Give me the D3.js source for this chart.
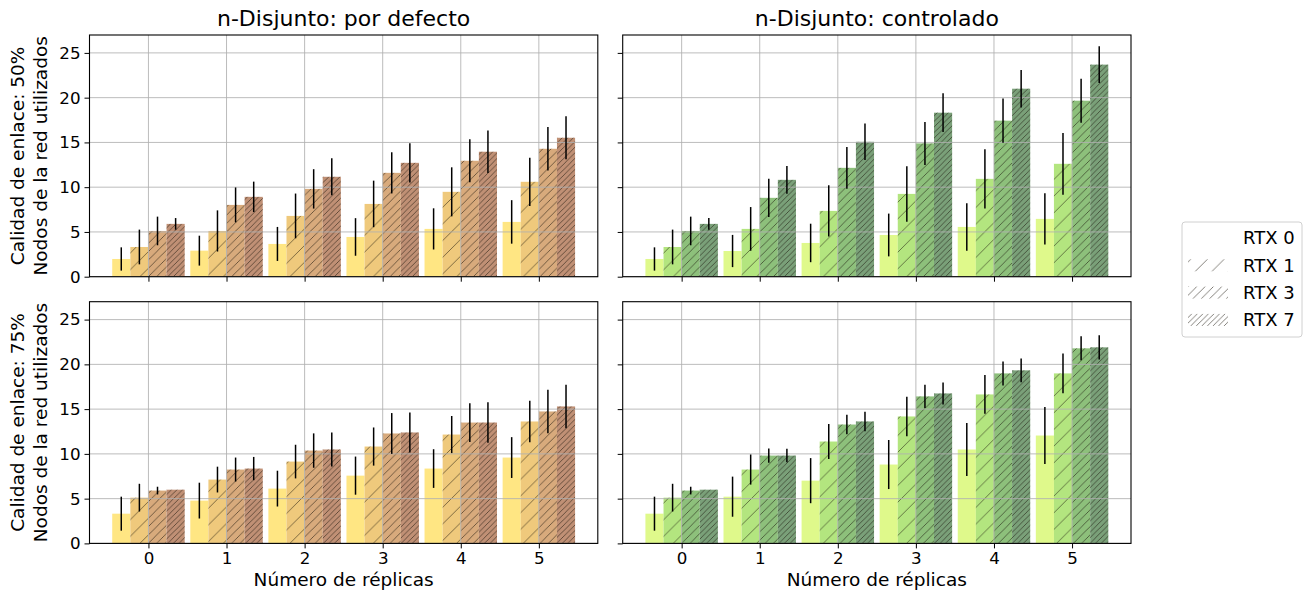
<!DOCTYPE html>
<html>
<head>
<meta charset="utf-8">
<script src="https://cdn.jsdelivr.net/npm/d3@7"></script>
<style>
  body { margin: 0; background: #fff; }
  text { font-family: "DejaVu Sans", sans-serif; fill: #000; }
</style>
</head>
<body>
<svg id="chart" width="1311" height="592"></svg>
<script>
// data
const replicas = [0, 1, 2, 3, 4, 5];
const rtxLabels = ["RTX 0", "RTX 1", "RTX 3", "RTX 7"];
const yTicks = [0, 5, 10, 15, 20, 25];

// n-Disjunto: por defecto, calidad 50%
const meanDef50 = [
  [1.98, 2.91, 3.66, 4.44, 5.34, 6.12],
  [3.32, 5.11, 6.79, 8.13, 9.48, 10.6],
  [5.11, 8.02, 9.81, 11.6, 12.95, 14.29],
  [5.9, 8.92, 11.16, 12.72, 13.96, 15.52]
];
const errDef50 = [
  [1.3, 1.67, 1.9, 2.1, 2.3, 2.43],
  [1.94, 2.3, 2.5, 2.6, 2.74, 2.7],
  [1.6, 1.95, 2.2, 2.3, 2.4, 2.42],
  [0.65, 1.7, 2.07, 2.2, 2.37, 2.4]
];
// n-Disjunto: controlado, calidad 50%
const meanCtl50 = [
  [1.98, 2.87, 3.77, 4.66, 5.56, 6.46],
  [3.32, 5.34, 7.35, 9.25, 10.93, 12.61],
  [5.11, 8.81, 12.16, 14.89, 17.43, 19.66],
  [5.9, 10.82, 15.07, 18.32, 21.0, 23.69]
];
const errCtl50 = [
  [1.3, 1.8, 2.15, 2.39, 2.65, 2.87],
  [1.94, 2.44, 2.87, 3.1, 3.32, 3.45],
  [1.6, 2.13, 2.33, 2.4, 2.48, 2.46],
  [0.65, 1.55, 2.03, 2.16, 2.09, 2.05]
];
// n-Disjunto: por defecto, calidad 75%
const meanDef75 = [
  [3.32, 4.78, 6.12, 7.57, 8.36, 9.59],
  [5.11, 7.13, 9.14, 10.82, 12.16, 13.62],
  [5.9, 8.25, 10.37, 12.28, 13.5, 14.74],
  [6.0, 8.36, 10.49, 12.39, 13.5, 15.3]
];
const errDef75 = [
  [1.9, 2.0, 2.0, 2.13, 2.16, 2.28],
  [1.55, 1.44, 1.88, 2.13, 2.07, 2.31],
  [0.43, 1.34, 1.92, 2.28, 2.16, 2.43],
  [0.0, 1.3, 1.9, 2.24, 2.26, 2.43]
];
// n-Disjunto: controlado, calidad 75%
const meanCtl75 = [
  [3.32, 5.22, 7.01, 8.81, 10.49, 12.05],
  [5.11, 8.25, 11.38, 14.18, 16.64, 18.99],
  [5.9, 9.81, 13.28, 16.42, 18.99, 21.79],
  [6.0, 9.81, 13.62, 16.75, 19.33, 21.9]
];
const errCtl75 = [
  [1.9, 2.24, 2.52, 2.74, 2.97, 3.19],
  [1.55, 1.68, 1.96, 2.2, 2.16, 2.22],
  [0.43, 0.8, 1.08, 1.3, 1.34, 1.34],
  [0.0, 0.75, 1.08, 1.23, 1.32, 1.36]
];

const yellowColors = ["#ffe683", "#efc97c", "#d8aa7c", "#c09075"];
const greenColors = ["#dff98b", "#b3e57f", "#8dc07b", "#7aa079"];
const hatchCount = [0, 1, 2, 3];   // "/", "//", "///"

const svg = d3.select("#chart");
const barW = 0.232;

// hatch patterns, fixed in page space like matplotlib
const defs = svg.append("defs");
hatchCount.forEach(function(n) {
  if (n === 0) return;
  const s = 100 / (6 * n);
  const p = defs.append("pattern")
    .attr("id", "hatch" + n)
    .attr("patternUnits", "userSpaceOnUse")
    .attr("width", s).attr("height", s);
  p.append("path")
    .attr("d", "M0," + s + "L" + s + ",0 M" + (-s / 2) + "," + (s / 2) + "L" + (s / 2) + "," + (-s / 2) +
      " M" + (s / 2) + "," + (s * 1.5) + "L" + (s * 1.5) + "," + (s / 2))
    .attr("stroke", "rgba(25,20,10,0.6)")
    .attr("stroke-width", 0.9)
    .attr("fill", "none");
});

const panels = [
  {x: 89.5, y: 35, means: meanDef50, errs: errDef50, colors: yellowColors, title: "n-Disjunto: por defecto", ylabel: ["Calidad de enlace: 50%", "Nodos de la red utilizados"], xlab: false},
  {x: 622.7, y: 35, means: meanCtl50, errs: errCtl50, colors: greenColors, title: "n-Disjunto: controlado", ylabel: null, xlab: false},
  {x: 89.5, y: 301.7, means: meanDef75, errs: errDef75, colors: yellowColors, title: null, ylabel: ["Calidad de enlace: 75%", "Nodos de la red utilizados"], xlab: true},
  {x: 622.7, y: 301.7, means: meanCtl75, errs: errCtl75, colors: greenColors, title: null, ylabel: null, xlab: true}
];
const pw = 508.3, ph = 241.7;

panels.forEach(function(p) {
  const g = svg.append("g").attr("transform", "translate(" + p.x + "," + p.y + ")");
  const x = d3.scaleLinear().domain([-0.755, 5.755]).range([0, pw]);
  const y = d3.scaleLinear().domain([0, 27]).range([ph, 0]);

  // bars
  p.means.forEach(function(series, k) {
    const off = (k - 1.5) * barW;
    const data = series.map(function(v, i) { return {rep: replicas[i], v: v, e: p.errs[k][i]}; });
    g.selectAll(".bar" + k).data(data).join("rect")
      .attr("x", d => x(d.rep + off - barW / 2))
      .attr("width", x(barW) - x(0))
      .attr("y", d => y(d.v))
      .attr("height", d => y(0) - y(d.v))
      .attr("fill", p.colors[k]);
    if (hatchCount[k] > 0) {
      // hatch rects live in page space so the pattern lines up across bars
      g.selectAll(".hatch" + k).data(data).join("rect")
        .attr("transform", "translate(" + (-p.x) + "," + (-p.y) + ")")
        .attr("x", d => x(d.rep + off - barW / 2) + p.x)
        .attr("width", x(barW) - x(0))
        .attr("y", d => y(d.v) + p.y)
        .attr("height", d => y(0) - y(d.v))
        .attr("fill", "url(#hatch" + hatchCount[k] + ")");
    }
  });

  // grid lines on top
  g.selectAll(".gy").data(yTicks).join("line")
    .attr("x1", 0).attr("x2", pw)
    .attr("y1", d => y(d)).attr("y2", d => y(d))
    .attr("stroke", "#b0b0b0").attr("stroke-opacity", 0.85).attr("stroke-width", 1);
  g.selectAll(".gx").data(replicas).join("line")
    .attr("y1", 0).attr("y2", ph)
    .attr("x1", d => x(d)).attr("x2", d => x(d))
    .attr("stroke", "#b0b0b0").attr("stroke-opacity", 0.85).attr("stroke-width", 1);

  // error bars
  p.means.forEach(function(series, k) {
    const off = (k - 1.5) * barW;
    g.selectAll(".err" + k).data(series).join("line")
      .attr("x1", (d, i) => x(replicas[i] + off)).attr("x2", (d, i) => x(replicas[i] + off))
      .attr("y1", (d, i) => y(d - p.errs[k][i])).attr("y2", (d, i) => y(d + p.errs[k][i]))
      .attr("stroke", "#000").attr("stroke-width", 1.5);
  });

  // axes
  const yAxis = d3.axisLeft(y).tickValues(yTicks).tickSize(5).tickPadding(4);
  if (p.ylabel === null) yAxis.tickFormat("");
  const ya = g.append("g").call(yAxis);
  const xAxis = d3.axisBottom(x).tickValues(replicas).tickSize(5).tickPadding(4).tickFormat(d3.format("d"));
  if (!p.xlab) xAxis.tickFormat("");
  const xa = g.append("g").attr("transform", "translate(0," + ph + ")").call(xAxis);
  [ya, xa].forEach(function(a) {
    a.select(".domain").remove();
    a.selectAll("line").attr("stroke", "#000").attr("stroke-width", 1);
    a.selectAll("text").style("font-family", "DejaVu Sans").style("font-size", "16.7px");
  });

  g.append("rect").attr("width", pw).attr("height", ph)
    .attr("fill", "none").attr("stroke", "#000").attr("stroke-width", 1.1);

  if (p.title) {
    g.append("text").attr("x", pw / 2).attr("y", -9)
      .attr("text-anchor", "middle").style("font-size", "22px").text(p.title);
  }
  if (p.xlab) {
    g.append("text").attr("x", pw / 2).attr("y", ph + 43)
      .attr("text-anchor", "middle").style("font-size", "18.5px").text("Número de réplicas");
  }
  if (p.ylabel) {
    p.ylabel.forEach(function(t, i) {
      g.append("text")
        .attr("transform", "translate(" + (-p.x + 24 + i * 23) + "," + (ph / 2) + ") rotate(-90)")
        .attr("text-anchor", "middle").style("font-size", "18.5px").text(t);
    });
  }
});

// legend
const leg = svg.append("g").attr("transform", "translate(1182,222)");
leg.append("rect").attr("width", 120).attr("height", 115).attr("rx", 3)
  .attr("fill", "#fff").attr("stroke", "#d0d0d0").attr("stroke-width", 1);
rtxLabels.forEach(function(lab, k) {
  const ry = 16 + k * 27.3;
  if (hatchCount[k] > 0) {
    leg.append("rect")
      .attr("transform", "translate(-1182,-222)")
      .attr("x", 1182 + 6).attr("y", 222 + ry - 6).attr("width", 40).attr("height", 12)
      .attr("fill", "url(#hatch" + hatchCount[k] + ")");
  }
  leg.append("text").attr("x", 61).attr("y", ry).attr("dy", "0.35em")
    .style("font-size", "18px").text(lab);
});
</script>
</body>
</html>
